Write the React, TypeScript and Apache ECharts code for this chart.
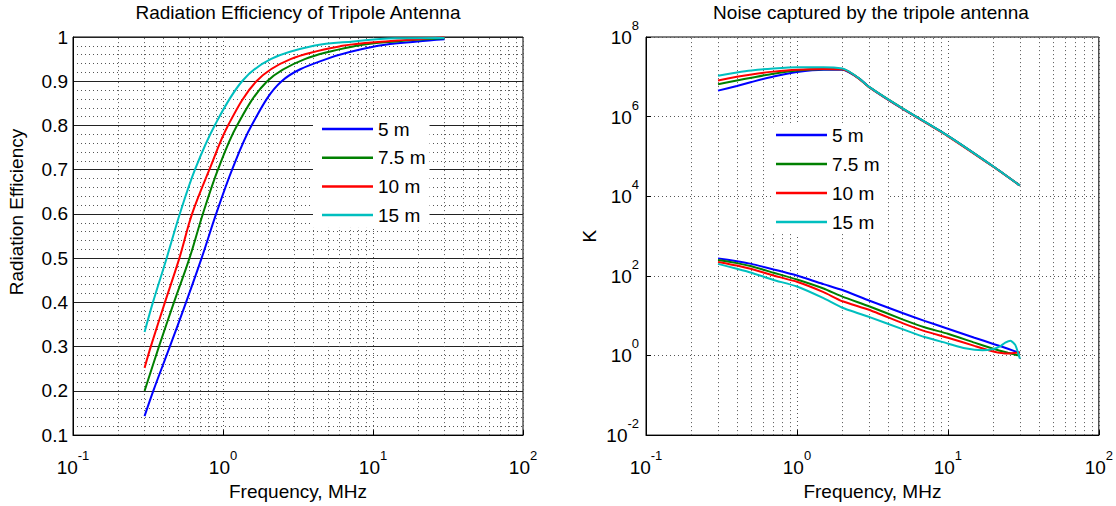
import React, { useEffect, useRef } from 'react';
import * as echarts from 'echarts';

const FONT = 'Liberation Sans, Arial, Helvetica, sans-serif';

const seriesNames = ['5 m', '7.5 m', '10 m', '15 m'];
const seriesColors = ['#0000ff', '#008000', '#ff0000', '#00bfbf'];

// ---- Left chart: radiation efficiency vs frequency (MHz)
const effFreq5 = [0.3, 0.343, 0.442, 0.567, 0.72, 0.9, 1.15, 1.55, 2.46, 4.88, 10.8, 19.8, 30];
const eff5 = [0.143, 0.2, 0.3, 0.4, 0.5, 0.6, 0.7, 0.8, 0.9, 0.95, 0.98, 0.99, 0.995];
const effFreq75 = [0.3, 0.374, 0.471, 0.598, 0.734, 0.925, 1.24, 1.97, 3.51, 7.78, 14.3, 30];
const eff75 = [0.2, 0.3, 0.4, 0.5, 0.6, 0.7, 0.8, 0.9, 0.95, 0.98, 0.99, 0.997];
const effFreq10 = [0.3, 0.33, 0.41, 0.512, 0.622, 0.811, 1.08, 1.67, 2.82, 6.25, 12.1, 30];
const eff10 = [0.252, 0.3, 0.4, 0.5, 0.6, 0.7, 0.8, 0.9, 0.95, 0.98, 0.99, 0.999];
const effFreq15 = [0.3, 0.341, 0.421, 0.515, 0.65, 0.88, 1.34, 2.08, 4.03, 7.4, 14, 30];
const eff15 = [0.333, 0.4, 0.5, 0.6, 0.7, 0.8, 0.9, 0.95, 0.98, 0.99, 0.997, 0.998];

// ---- Right chart: noise temperature K vs frequency (MHz)
const noiseFreqHigh = [0.3, 0.4, 0.5, 0.7, 1, 1.5, 2, 2.2, 2.6, 3, 5, 10, 20, 30];
const noiseHigh5 = [4.5e6, 5.9e6, 7.4e6, 1.02e7, 1.32e7, 1.51e7, 1.51e7, 1.32e7, 8.9e6, 5.6e6, 1.58e6, 3.3e5, 5.6e4, 1.86e4];
const noiseHigh75 = [6.5e6, 8.1e6, 9.5e6, 1.2e7, 1.45e7, 1.55e7, 1.55e7, 1.35e7, 8.9e6, 5.6e6, 1.62e6, 3.3e5, 5.6e4, 1.86e4];
const noiseHigh10 = [8.1e6, 1.0e7, 1.15e7, 1.35e7, 1.51e7, 1.58e7, 1.55e7, 1.35e7, 8.7e6, 5.5e6, 1.58e6, 3.2e5, 5.5e4, 1.86e4];
const noiseHigh15 = [1.07e7, 1.29e7, 1.45e7, 1.62e7, 1.74e7, 1.74e7, 1.62e7, 1.38e7, 8.9e6, 5.6e6, 1.62e6, 3.3e5, 5.6e4, 1.86e4];

const noiseFreqLow = [0.3, 0.4, 0.5, 0.7, 1, 1.5, 2, 3, 5, 7, 10, 15, 20, 25, 30];
const noiseLow5 = [275, 234, 200, 145, 102, 62, 44, 24, 11.7, 7.4, 4.7, 2.8, 1.95, 1.48, 1.15];
const noiseLow75 = [251, 209, 174, 120, 81, 48, 30, 17.2, 8.1, 5.1, 3.5, 2.1, 1.48, 1.17, 0.98];
const noiseLow10 = [224, 182, 148, 102, 71, 39, 23, 14.1, 6.5, 4.1, 2.8, 1.74, 1.26, 1.12, 1.2];
const noiseFreqLow15 = [0.3, 0.4, 0.5, 0.7, 1, 1.5, 2, 3, 5, 7, 10, 13, 17, 20, 22, 24, 26, 28, 30];
const noiseLow15 = [200, 151, 120, 79, 54, 27.5, 15.8, 9.3, 4.6, 2.9, 2.0, 1.51, 1.35, 1.45, 1.66, 2.1, 2.35, 1.82, 0.83];

// ---- Axes / grid definitions
const freqMin = 0.1;
const freqMax = 100;
const freqMinorGrid = [0.2, 0.3, 0.4, 0.5, 0.6, 0.7, 0.8, 0.9, 2, 3, 4, 5, 6, 7, 8, 9, 20, 30, 40, 50, 60, 70, 80, 90];
const effMin = 0.1;
const effMax = 1;
const effStep = 0.1;
const noiseExpMin = -2;
const noiseExpMax = 8;
const noiseExpStep = 2;

const pairs = (xs: number[], ys: number[]) => xs.map((x, i) => [x, ys[i]]);
const logPairs = (xs: number[], ys: number[]) => xs.map((x, i) => [x, Math.log10(ys[i])]);

const dotted = { type: [1, 3], color: '#555', width: 1 };

const expRich = {
  b: { fontSize: 19, color: '#000', fontFamily: FONT, lineHeight: 28, verticalAlign: 'bottom' },
  s: { fontSize: 13, color: '#000', fontFamily: FONT, lineHeight: 10, verticalAlign: 'top' },
};

const makeMinorMarkLine = () => ({
  silent: true,
  symbol: ['none', 'none'],
  z: 1,
  label: { show: false },
  lineStyle: dotted,
  emphasis: { disabled: true },
  data: freqMinorGrid.map((v) => ({ xAxis: v })),
});

const freqAxis = (gridIndex: number) => ({
  type: 'log',
  logBase: 10,
  gridIndex,
  min: freqMin,
  max: freqMax,
  name: 'Frequency, MHz',
  nameLocation: 'middle',
  nameGap: 32,
  nameTextStyle: { fontSize: 19, color: '#000', fontFamily: FONT },
  axisLine: { show: true, onZero: false, lineStyle: { color: '#000', width: 1 } },
  axisTick: { show: true, inside: true, length: 5, lineStyle: { color: '#000' } },
  axisLabel: {
    margin: 14,
    formatter: (v: number) => `{b|10}{s|${Math.round(Math.log10(v))}}`,
    rich: expRich,
  },
  splitLine: { show: true, lineStyle: dotted },
});

export default function App() {
  const ref = useRef<HTMLDivElement>(null);
  useEffect(() => {
    if (!ref.current) return;
    const chart = echarts.init(ref.current, undefined, { renderer: 'svg' });

    const leftSets = [
      pairs(effFreq5, eff5),
      pairs(effFreq75, eff75),
      pairs(effFreq10, eff10),
      pairs(effFreq15, eff15),
    ];
    const highSets = [
      logPairs(noiseFreqHigh, noiseHigh5),
      logPairs(noiseFreqHigh, noiseHigh75),
      logPairs(noiseFreqHigh, noiseHigh10),
      logPairs(noiseFreqHigh, noiseHigh15),
    ];
    const lowSets = [
      logPairs(noiseFreqLow, noiseLow5),
      logPairs(noiseFreqLow, noiseLow75),
      logPairs(noiseFreqLow, noiseLow10),
      logPairs(noiseFreqLow15, noiseLow15),
    ];

    const lineBase = (name: string, i: number, xi: number, data: number[][], smooth: number) => ({
      type: 'line',
      name,
      xAxisIndex: xi,
      yAxisIndex: xi,
      data,
      showSymbol: false,
      smooth,
      lineStyle: { width: 2, color: seriesColors[i] },
      itemStyle: { color: seriesColors[i] },
      emphasis: { disabled: true },
      z: 3,
    });

    const series: any[] = [];
    seriesNames.forEach((name, i) => {
      const s: any = lineBase(name, i, 0, leftSets[i], 0.35);
      if (i === 0) s.markLine = makeMinorMarkLine();
      series.push(s);
    });
    seriesNames.forEach((name, i) => {
      const s: any = lineBase(name, i, 1, highSets[i], 0.2);
      if (i === 0) s.markLine = makeMinorMarkLine();
      series.push(s);
      series.push(lineBase(name, i, 1, lowSets[i], 0.15));
    });

    const legendBase = {
      orient: 'vertical',
      data: seriesNames,
      icon: 'rect',
      itemWidth: 51,
      itemHeight: 2.5,
      backgroundColor: '#fff',
      selectedMode: false,
      textStyle: { fontSize: 19, lineHeight: 20, color: '#000', fontFamily: FONT },
    };

    chart.setOption({
      animation: false,
      textStyle: { fontFamily: FONT },
      title: [
        {
          text: 'Radiation Efficiency of Tripole Antenna',
          left: 298,
          top: 3,
          padding: 0,
          textAlign: 'center',
          textStyle: { fontSize: 19, fontWeight: 'normal', color: '#000', fontFamily: FONT },
        },
        {
          text: 'Noise captured by the tripole antenna',
          left: 871,
          top: 3,
          padding: 0,
          textAlign: 'center',
          textStyle: { fontSize: 19, fontWeight: 'normal', color: '#000', fontFamily: FONT },
        },
      ],
      legend: [
        { ...legendBase, left: 313, top: 117, itemGap: 8.7, padding: [2, 4, 2, 9] },
        { ...legendBase, left: 773, top: 123, itemGap: 9, padding: [2, 8, 2, 3] },
      ],
      grid: [
        { left: 73, top: 37, width: 450, height: 408, show: true, borderColor: '#000', borderWidth: 1, backgroundColor: 'transparent' },
        { left: 646, top: 37, width: 453, height: 408, show: true, borderColor: '#000', borderWidth: 1, backgroundColor: 'transparent' },
      ],
      xAxis: [freqAxis(0), freqAxis(1)],
      yAxis: [
        {
          type: 'value',
          gridIndex: 0,
          min: effMin,
          max: effMax,
          interval: effStep,
          name: 'Radiation Efficiency',
          nameLocation: 'middle',
          nameGap: 47,
          nameTextStyle: { fontSize: 19, color: '#000', fontFamily: FONT, padding: [0, 0, 0, 48] },
          axisLine: { show: true, onZero: false, lineStyle: { color: '#000', width: 1 } },
          axisTick: { show: false },
          axisLabel: {
            margin: 5,
            fontSize: 19,
            color: '#000',
            fontFamily: FONT,
            formatter: (v: number) => String(Math.round(v * 10) / 10),
          },
          splitLine: { show: true, lineStyle: { color: '#222', width: 1 } },
          minorTick: { show: false, splitNumber: 5 },
          minorSplitLine: { show: true, lineStyle: dotted },
        },
        {
          type: 'value',
          gridIndex: 1,
          min: noiseExpMin,
          max: noiseExpMax,
          interval: noiseExpStep,
          name: 'K',
          nameLocation: 'middle',
          nameGap: 47,
          nameTextStyle: { fontSize: 19, color: '#000', fontFamily: FONT },
          axisLine: { show: true, onZero: false, lineStyle: { color: '#000', width: 1 } },
          axisTick: { show: true, inside: true, length: 5, lineStyle: { color: '#000' } },
          axisLabel: {
            margin: 7,
            padding: [0, 0, 8, 0],
            formatter: (v: number) => `{b|10}{s|${v}}`,
            rich: expRich,
          },
          splitLine: { show: true, lineStyle: dotted },
        },
      ],
      series,
    });
    return () => chart.dispose();
  }, []);
  return (
    <div
      ref={ref}
      style={{ position: 'fixed', left: 0, top: 0, width: 1116, height: 506, background: '#fff' }}
    />
  );
}
